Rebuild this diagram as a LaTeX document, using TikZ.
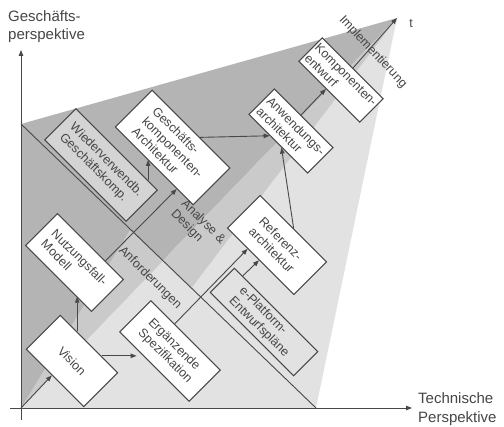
\documentclass[tikz,border=0pt]{standalone}
\usepackage{fontspec}
\setmainfont{Liberation Sans}
\usetikzlibrary{calc,arrows.meta}
\definecolor{darkreg}{RGB}{180,180,180}
\definecolor{midreg}{RGB}{202,202,202}
\definecolor{lightreg}{RGB}{226,226,226}
\definecolor{linecol}{RGB}{72,72,72}
\definecolor{txtcol}{RGB}{70,70,70}
\definecolor{boxgrey}{RGB}{212,212,212}
\begin{document}
\begin{tikzpicture}[x=1pt,y=-1pt,
  box/.style={draw=linecol,line width=1.05pt,fill=white,rotate=-45,inner sep=0pt,align=left,text=txtcol,font=\fontsize{12.5}{14.5}\selectfont},
  arr/.style={draw=linecol,line width=0.9pt,-{Triangle[length=6pt,width=4.5pt]}},
  ln/.style={draw=linecol,line width=0.9pt},
  lbl/.style={text=txtcol,font=\fontsize{12.5}{14.5}\selectfont,inner sep=0pt,align=left},
  axlbl/.style={text=txtcol,font=\fontsize{15}{18.5}\selectfont,inner sep=0pt,align=left}]
\useasboundingbox (0,0) rectangle (504,427);
\fill[white] (0,0) rectangle (504,427);
\coordinate (O) at (21,408);
\coordinate (apex) at (397,18);
\coordinate (topl) at (21,124);
\coordinate (bottr) at (316,408);
\coordinate (tA) at (162.7,261);
\coordinate (P1) at (130,230);
\coordinate (P2) at (191,288.5);
\coordinate (xs) at (10,408);
\coordinate (xe) at (412,408);
\coordinate (ys) at (21,420);
\coordinate (ye) at (21,50);
% regions
\fill[darkreg] (topl) -- (apex) -- (O) -- cycle;
\fill[lightreg] (apex) -- (bottr) -- (O) -- cycle;
\fill[midreg] (O) -- (P1) -- (tA) -- cycle;
\fill[midreg] (tA) -- (P2) -- (apex) -- cycle;
% phase line
\draw[ln] (topl) -- (bottr);
% axes
\draw[arr] (xs) -- (xe);
\draw[arr] (ys) -- (ye);
\node[axlbl,anchor=north west] (ylab) at (8,10) {Geschäfts-\\perspektive};
\node[axlbl,anchor=north west] (xlab) at (418,392.5) {Technische\\Perspektive};
% boxes
\node[box,align=center,minimum width=81pt,minimum height=48pt] (vision) at (72,361) {Vision};
\node[box,minimum width=93pt,minimum height=45pt] (nutz) at (74.5,262.5) {Nutzungsfall-\\Modell};
\node[box,fill=boxgrey,minimum width=115pt,minimum height=44pt] (wv) at (101,165) {Wiederverwendb.\\Geschäftskomp.};
\node[box,minimum width=110pt,minimum height=52pt] (gk) at (172.7,147.5) {Geschäfts-\\komponenten-\\Architektur};
\node[box,minimum width=98pt,minimum height=44pt] (erg) at (170,351) {Ergänzende\\Spezifikation};
\node[box,minimum width=94pt,minimum height=46pt] (ref) at (277,245) {Referenz-\\architektur};
\node[box,fill=lightreg,minimum width=118pt,minimum height=34pt] (ep) at (264,322) {e-Platform-\\Entwurfspläne};
\node[box,minimum width=83pt,minimum height=36pt] (aa) at (291,131) {Anwendungs-\\architektur};
\node[box,minimum width=86pt,minimum height=33pt] (ke) at (341,80) {Komponenten-\\entwurf};
% labels
\node[lbl,rotate=-45] (anf) at (150,278) {Anforderungen};
\node[lbl,rotate=-45] (ad) at (198,227) {Analyse \&\\Design};
\node[lbl,rotate=-47] (impl) at (373,52) {Implementierung};
\node[lbl] (tl) at (411,24) {t};
% connectors
\draw[arr] (O) -- ($(vision.south west)!0.45!(vision.south east)$);
\coordinate (v1) at ($(vision.north west)!0.29!(vision.north east)$);
\coordinate (n1) at ($(nutz.south west)!0.77!(nutz.south east)$);
\draw[arr] (v1) -- (v1 |- n1);
\coordinate (v2) at ($(vision.north west)!0.71!(vision.north east)$);
\coordinate (e1) at ($(erg.south west)!0.25!(erg.south east)$);
\draw[arr] (v2) -- (v2 -| e1);
\draw[arr] ($(nutz.north west)!0.72!(nutz.north east)$) -- ($(gk.south west)!0.79!(gk.south east)$);
\coordinate (w1) at ($(wv.north west)!0.88!(wv.north east)$);
\coordinate (g1) at ($(gk.south west)!0.42!(gk.south east)$);
\draw[arr] (w1) -- (w1 |- g1);
\draw[arr] ($(erg.north west)!0.34!(erg.north east)$) -- ($(ref.south west)!0.31!(ref.south east)$);
\draw[arr] ($(ep.north west)!0.1!(ep.north east)$) -- ($(ref.south west)!0.48!(ref.south east)$);
\draw[arr] ($(gk.north west)!0.61!(gk.north east)$) -- ($(aa.south west)!0.36!(aa.south east)$);
\draw[arr] (ref.north) -- ($(aa.south west)!0.56!(aa.south east)$);
\draw[arr] ($(aa.north west)!0.45!(aa.north east)$) -- ($(ke.south west)!0.45!(ke.south east)$);
\draw[arr] (ke.north) -- (apex);
\end{tikzpicture}
\end{document}
